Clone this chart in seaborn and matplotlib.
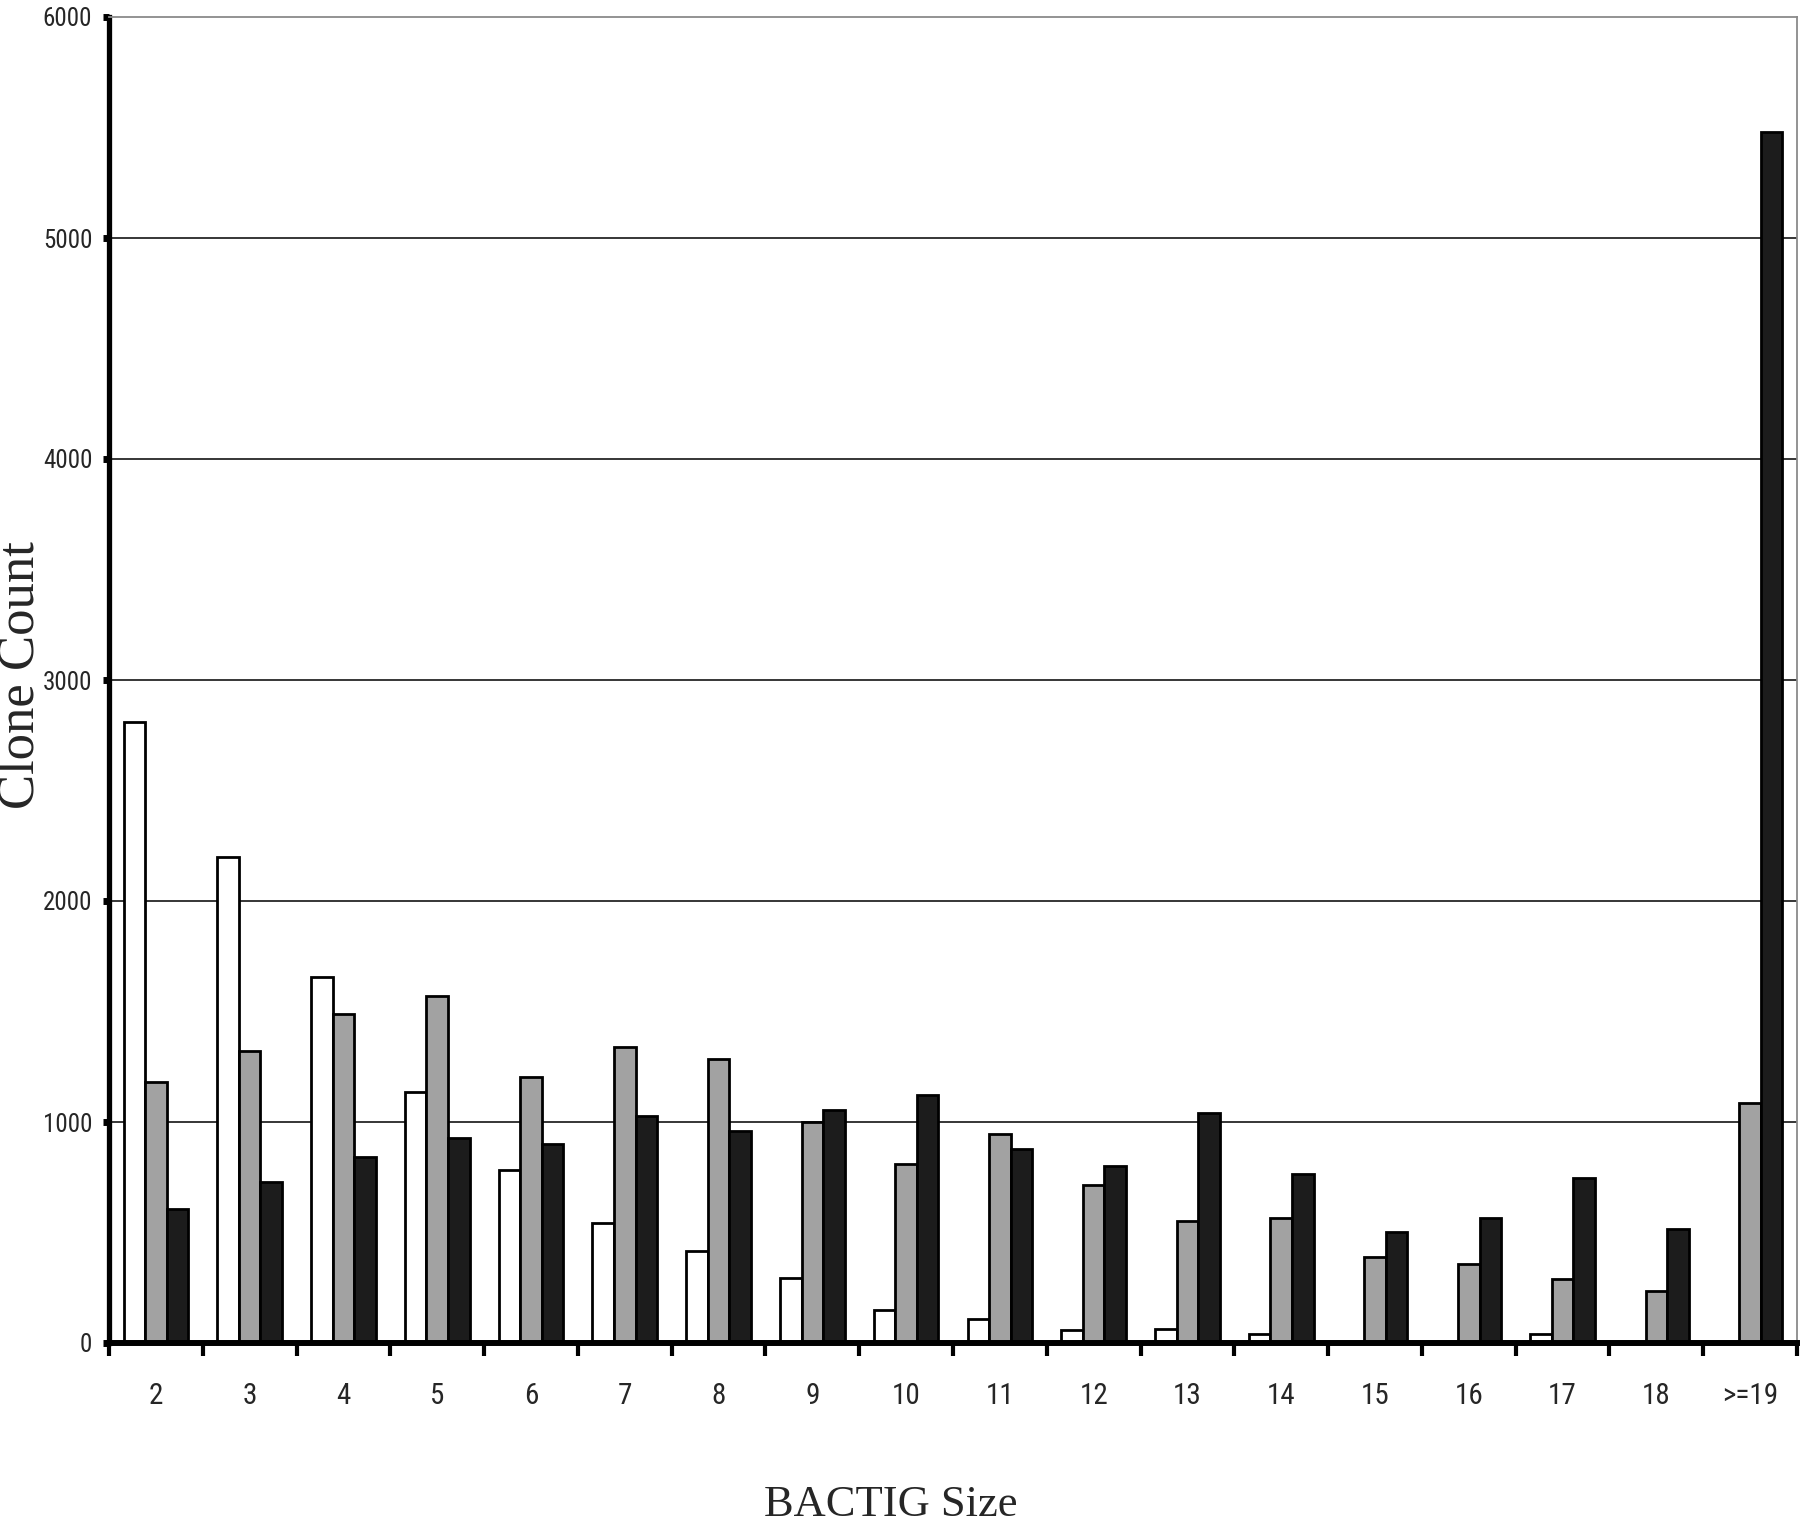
import numpy as np
import pandas as pd
import matplotlib
matplotlib.use("Agg")
import matplotlib.pyplot as plt
import seaborn as sns

# ---- data ----
categories = ["2", "3", "4", "5", "6", "7", "8", "9", "10", "11", "12",
              "13", "14", "15", "16", "17", "18", ">=19"]
series_names = ["A", "B", "C"]
white_vals = [2810, 2197, 1657, 1134, 783, 544, 417, 295, 148, 109, 60,
              64, 42, 0, 0, 42, 0, 0]
gray_vals = [1183, 1320, 1490, 1570, 1205, 1340, 1285, 1000, 808, 944, 715,
             551, 565, 389, 356, 290, 234, 1086]
black_vals = [605, 730, 843, 928, 902, 1027, 959, 1054, 1122, 878, 802,
              1040, 765, 504, 567, 745, 516, 5478]
y_ticks = [0, 1000, 2000, 3000, 4000, 5000, 6000]

df = pd.DataFrame({
    "size": categories * 3,
    "series": [series_names[0]] * len(categories)
              + [series_names[1]] * len(categories)
              + [series_names[2]] * len(categories),
    "count": white_vals + gray_vals + black_vals,
})

sns.set_theme(style="white")
narrow = ["Roboto Condensed", "DejaVu Sans Condensed", "Liberation Sans Narrow",
          "DejaVu Sans"]
plt.rcParams["font.family"] = narrow
plt.rcParams["font.stretch"] = "condensed"

fig = plt.figure(figsize=(18, 15.27), dpi=100)
ax = fig.add_axes([109 / 1800, 1 - 1343 / 1527, (1797 - 109) / 1800, (1343 - 17) / 1527])

palette = {"A": "#ffffff", "B": "#a2a2a2", "C": "#1c1c1c"}
sns.barplot(data=df, x="size", y="count", hue="series", order=categories,
            hue_order=series_names, palette=palette, width=0.69,
            edgecolor="black", linewidth=2.0, saturation=1, ax=ax,
            legend=False, zorder=3)

ax.set_ylim(0, 6000)
ax.set_xlim(-0.5, len(categories) - 0.5)

# gridlines
for v in y_ticks[1:-1]:
    ax.axhline(v, color="black", lw=1.1, zorder=1)

# spines
ax.spines["left"].set_linewidth(3.8)
ax.spines["left"].set_color("black")
ax.spines["bottom"].set_linewidth(4.3)
ax.spines["bottom"].set_color("black")
ax.spines["bottom"].set_zorder(5)
ax.spines["top"].set_linewidth(1.3)
ax.spines["top"].set_color("#8a8a8a")
ax.spines["right"].set_linewidth(1.3)
ax.spines["right"].set_color("#8a8a8a")

# y ticks
ax.set_yticks(y_ticks)
ax.set_yticklabels([str(v) for v in y_ticks], fontsize=18, family=narrow,
                   fontstretch="condensed")
ax.tick_params(axis="y", which="major", direction="out", length=4, width=5,
               color="black", pad=8, left=True)

# x ticks: labels at category centres, marks at category boundaries
ax.set_xticks(range(len(categories)))
ax.set_xticklabels(categories, fontsize=21, family=narrow,
                   fontstretch="condensed")
ax.set_xticks(np.arange(-0.5, len(categories), 1.0), minor=True)
ax.tick_params(axis="x", which="major", length=0, pad=28)
ax.tick_params(axis="x", which="minor", direction="out", length=9, width=3,
               color="black", bottom=True)

ax.set_xlabel("")
ax.set_ylabel("")

fig.text(21 / 1800, 1 - 675 / 1527, "Clone Count", rotation=90,
         ha="center", va="center", fontsize=38, family="Liberation Serif")
fig.text(891 / 1800, 1 - 1505 / 1527, "BACTIG Size",
         ha="center", va="center", fontsize=32, family="Liberation Serif")

fig.savefig("out.png", dpi=100, facecolor="white")
